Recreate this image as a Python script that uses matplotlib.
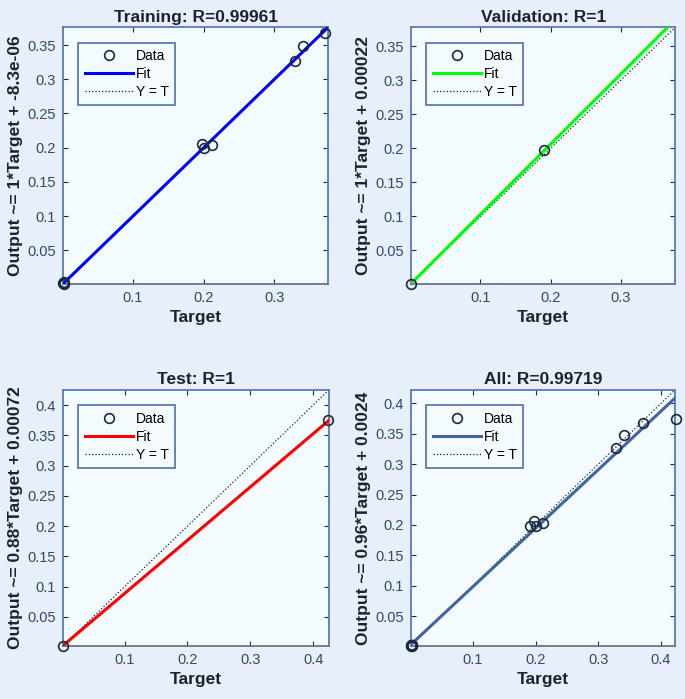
import matplotlib
matplotlib.use('Agg')
import matplotlib.pyplot as plt

plt.rcParams['font.family'] = ['Liberation Sans', 'DejaVu Sans']

# panel info
titles = ['Training: R=0.99961', 'Validation: R=1', 'Test: R=1', 'All: R=0.99719']
fit_colors = ['#0000FF', '#00FF00', '#FF0000', '#41659E']
slopes = [1.0, 1.03, 0.88, 0.962]
intercepts = [-8.3e-06, 0.00022, 0.00072, 0.0024]
lims = [(0.001, 0.376), (0.001, 0.378), (0.002, 0.425), (0.001, 0.422)]

# targets / outputs per subset
train_t = [0.001, 0.002, 0.003, 0.197, 0.200, 0.212, 0.329, 0.341, 0.371]
train_o = [0.002, 0.001, 0.003, 0.206, 0.199, 0.204, 0.327, 0.348, 0.367]
val_t = [0.001, 0.191]
val_o = [0.001, 0.198]
test_t = [0.002, 0.424]
test_o = [0.002, 0.375]
all_t = train_t + val_t + test_t
all_o = train_o + val_o + test_o

targets = [train_t, val_t, test_t, all_t]
outputs = [train_o, val_o, test_o, all_o]
xticks = [[0.1, 0.2, 0.3], [0.1, 0.2, 0.3], [0.1, 0.2, 0.3, 0.4], [0.1, 0.2, 0.3, 0.4]]
yticks = [[0.05, 0.1, 0.15, 0.2, 0.25, 0.3, 0.35]] * 2 + [[0.05, 0.1, 0.15, 0.2, 0.25, 0.3, 0.35, 0.4]] * 2

fig = plt.figure(figsize=(6.85, 6.99), dpi=100, facecolor='#E7EFFA')
boxes = [[0.092, 0.594, 0.387, 0.367], [0.600, 0.594, 0.386, 0.367],
         [0.092, 0.076, 0.388, 0.366], [0.600, 0.076, 0.385, 0.366]]

for i in range(4):
    ax = fig.add_axes(boxes[i])
    ax.set_facecolor('#F4FBFE')
    lo, hi = lims[i]
    ax.plot(targets[i], outputs[i], 'o', mfc='none', mec='#1E2940', ms=7, mew=1.2,
            label='Data', zorder=4, clip_on=False)
    xs = [lo, hi]
    ax.plot(xs, [slopes[i] * x + intercepts[i] for x in xs], color=fit_colors[i], lw=2.2,
            label='Fit', zorder=3)
    ax.plot(xs, xs, ':', color='#1A2233', lw=0.9, label='Y = T', zorder=2)
    ax.set_xlim(lo, hi)
    ax.set_ylim(lo, hi)
    ax.set_xticks(xticks[i])
    ax.set_yticks(yticks[i])
    ax.set_xticklabels([('%g' % v) for v in xticks[i]])
    ax.set_yticklabels([('%g' % v) for v in yticks[i]])
    ax.tick_params(direction='in', length=3.5, width=0.8, top=True, right=True,
                   labelsize=10.5, labelcolor='#34466A', color='#1E2940', pad=5)
    for s in ax.spines.values():
        s.set_color('#5A7BB0')
        s.set_linewidth(1.3)
    ax.spines['bottom'].set_color('#6B7380')
    ax.set_title(titles[i], fontsize=12.5, fontweight='bold', color='#1A2233', pad=4)
    ax.set_xlabel('Target', fontsize=12.5, fontweight='bold', color='#1A2233', labelpad=4)
    ax.set_ylabel('Output ~= %.2g*Target + %.2g' % (slopes[i], intercepts[i]),
                  fontsize=12.5, fontweight='bold', color='#1A2233', labelpad=3)
    leg = ax.legend(loc='upper left', fontsize=10, handlelength=3.5, handletextpad=0.2,
                    borderaxespad=1.1, fancybox=False, framealpha=1, labelspacing=0.3,
                    borderpad=0.45)
    leg.get_frame().set_edgecolor('#5A7BB0')
    leg.get_frame().set_linewidth(1.3)
    leg.get_frame().set_facecolor('#F4FBFE')

fig.savefig('out.png', dpi=100, facecolor=fig.get_facecolor())
